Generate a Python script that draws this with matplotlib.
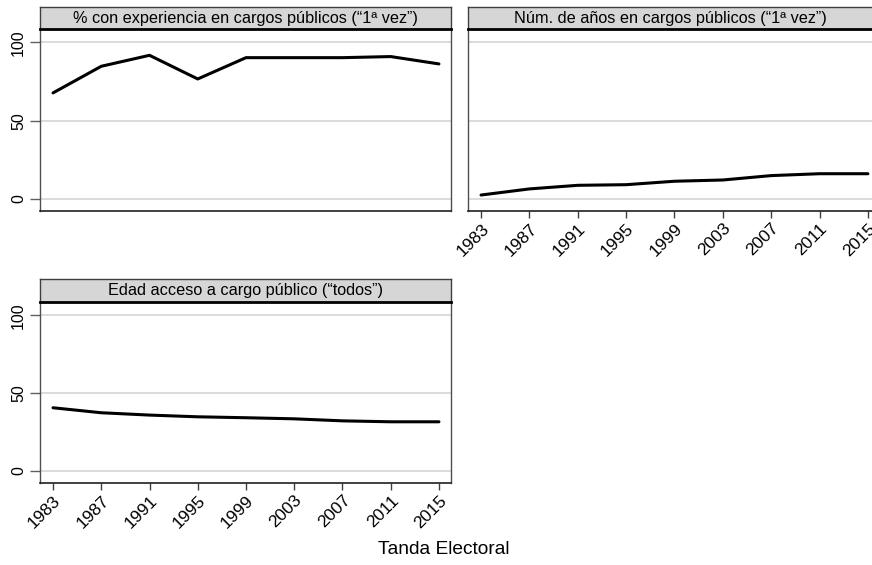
import numpy as np
import matplotlib
matplotlib.use("Agg")
import matplotlib.pyplot as plt

plt.rcParams['font.family'] = ['Liberation Sans', 'DejaVu Sans']

# Tandas electorales
years = [1983, 1987, 1991, 1995, 1999, 2003, 2007, 2011, 2015]

# % con experiencia en cargos publicos (1a vez)
pct_experiencia = [67.7, 84.7, 91.7, 76.6, 90.2, 90.2, 90.2, 90.9, 86.2]
# Num. de anos en cargos publicos (1a vez)
anios_cargos = [2.5, 6.4, 8.7, 9.1, 11.3, 12.1, 14.9, 16.1, 16.1]
# Edad acceso a cargo publico (todos)
edad_acceso = [40.6, 37.4, 35.9, 34.8, 34.2, 33.5, 32.2, 31.6, 31.6]

titles = ['% con experiencia en cargos públicos (“1ª vez”)',
          'Núm. de años en cargos públicos (“1ª vez”)',
          'Edad acceso a cargo público (“todos”)']
yticks = [0, 50, 100]

W, H = 872, 565
fig = plt.figure(figsize=(W / 100, H / 100), dpi=100)


def px_axes(x0, x1, ytop, ybot):
    return [x0 / W, (H - ybot) / H, (x1 - x0) / W, (ybot - ytop) / H]


# (left, right, strip top, plot top, plot bottom)
panels = [
    (40, 451, 7, 29, 211),
    (468, 880, 7, 29, 211),
    (40, 451, 279, 302, 483),
]
series = [pct_experiencia, anios_cargos, edad_acceso]
show_y = [True, False, True]
show_x = [False, True, True]

for (x0, x1, st, pt, pb), vals, title, sy, sx in zip(panels, series, titles, show_y, show_x):
    ax = fig.add_axes(px_axes(x0, x1, pt, pb))
    ax.set_xlim(1981.92, 2016.0)
    ax.set_ylim(-7.7, 108.5)
    for y in yticks:
        ax.axhline(y, color='#dcdcdc', lw=1.4, zorder=0)
    ax.plot(years, vals, color='black', lw=2.2, solid_capstyle='round', zorder=3)

    ax.set_yticks(yticks)
    ax.tick_params(axis='y', length=7, width=1, color='#606060', pad=3)
    if sy:
        ax.set_yticklabels([str(y) for y in yticks], rotation=90, va='center', fontsize=11.5)
    else:
        ax.set_yticklabels([])
        ax.tick_params(axis='y', length=0)

    ax.set_xticks(years)
    if sx:
        ax.set_xticklabels([str(y) for y in years], rotation=45, ha='right',
                           rotation_mode='anchor', fontsize=12.5)
        ax.tick_params(axis='x', length=5, width=1, color='#404040', pad=2)
    else:
        ax.set_xticklabels([])
        ax.tick_params(axis='x', length=0)

    for side in ['left', 'right']:
        ax.spines[side].set_color('#505050')
        ax.spines[side].set_linewidth(1.0)
    ax.spines['bottom'].set_color('#202020')
    ax.spines['bottom'].set_linewidth(1.2)
    ax.spines['top'].set_visible(False)

    sax = fig.add_axes(px_axes(x0, x1, st, pt))
    sax.set_facecolor('#d6d6d6')
    sax.set_xticks([])
    sax.set_yticks([])
    for side in ['left', 'right', 'top']:
        sax.spines[side].set_color('#404040')
        sax.spines[side].set_linewidth(1.0)
    sax.spines['bottom'].set_color('black')
    sax.spines['bottom'].set_linewidth(2.0)
    sax.text(0.5 if x1 < W else (x1 - x0 - 8) / 2 / (x1 - x0), 0.5, title,
             ha='center', va='center', fontsize=11.7, transform=sax.transAxes)

fig.text(444 / W, 1 - 550 / H, 'Tanda Electoral', ha='center', va='center', fontsize=13.8)

fig.savefig('out.png', dpi=100)
